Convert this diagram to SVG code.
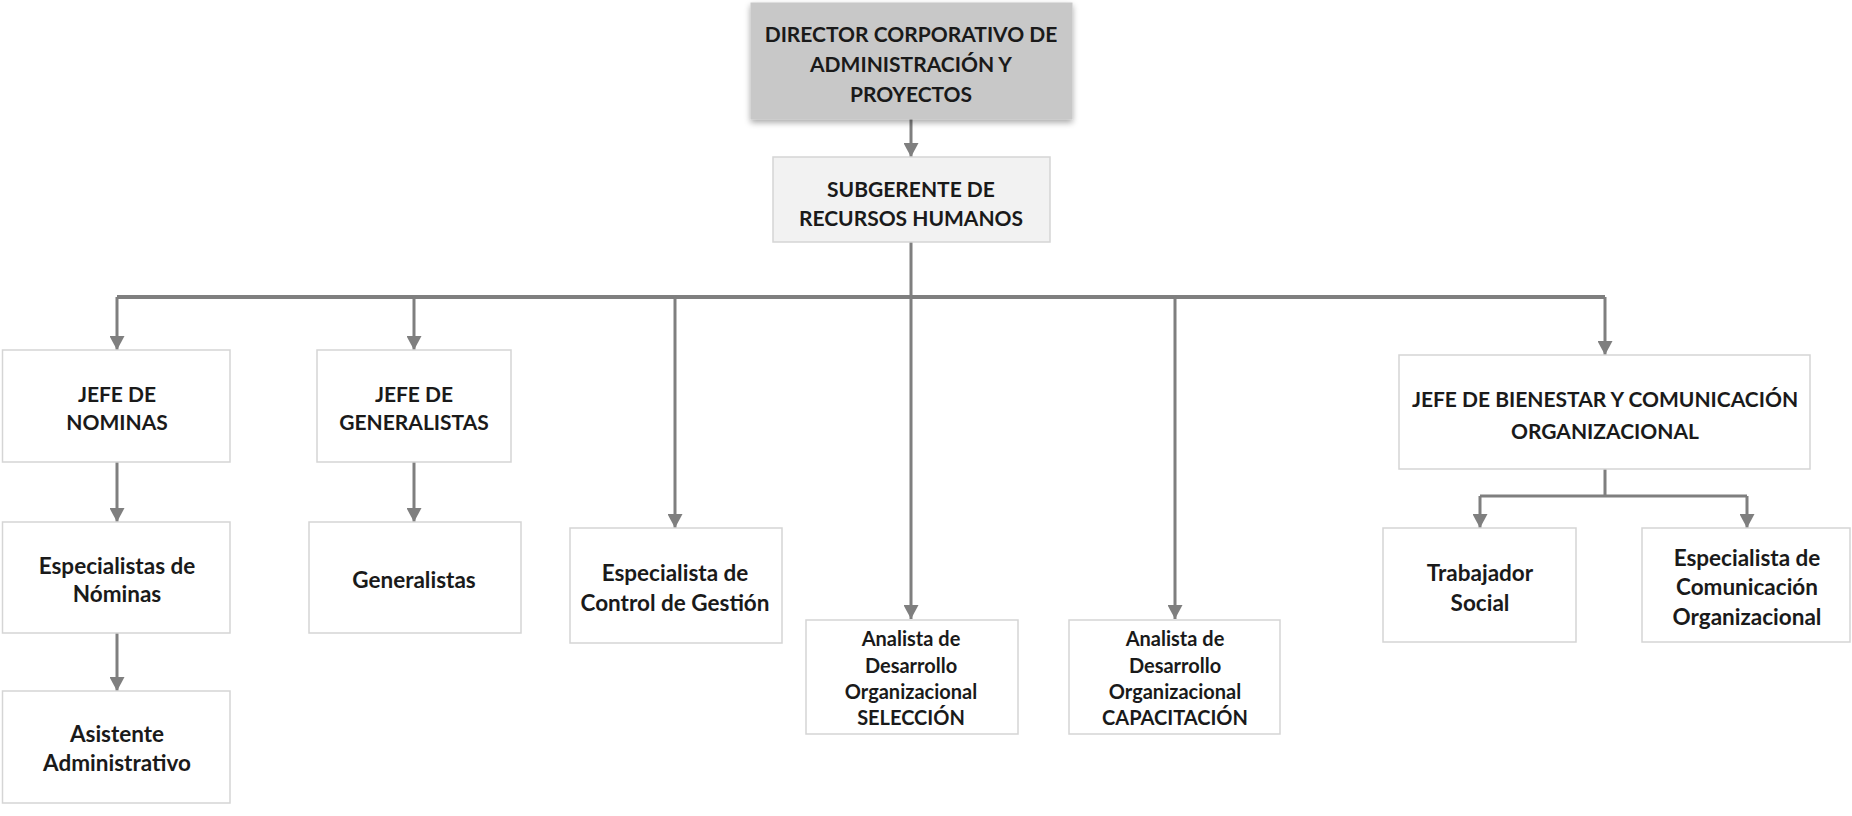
<svg xmlns="http://www.w3.org/2000/svg" width="1852" height="816" viewBox="0 0 1852 816">
  <style>
    .box { fill: #ffffff; stroke: #d5d5d5; stroke-width: 1.5; }
    .top { fill: #c8c8c8; stroke: #c8c8c8; stroke-width: 1; }
    .sub { fill: #f2f2f2; stroke: #d5d5d5; stroke-width: 1.5; }
    .lbl { font-family: Lato, "Liberation Sans", sans-serif; font-weight: bold; font-size: 21px; fill: #1a1a1a; text-anchor: middle; dominant-baseline: central; }
    .mix { font-size: 22.5px; }
    .cond { font-size: 20px; }
    .wire { fill: none; stroke: #7f7f7f; stroke-width: 3; }
    .bus { fill: none; stroke: #7f7f7f; stroke-width: 4; }
  </style>
  <defs>
    <marker id="arrow" viewBox="0 0 14 15" refX="14" refY="7.5" markerWidth="14" markerHeight="15" markerUnits="userSpaceOnUse" orient="auto">
      <path d="M0,0 L14,7.5 L0,15 Z" fill="#7f7f7f"/>
    </marker>
    <filter id="shadow" x="-10%" y="-10%" width="120%" height="130%">
      <feGaussianBlur in="SourceAlpha" stdDeviation="3"/>
      <feOffset dx="0" dy="3" result="b"/>
      <feComponentTransfer><feFuncA type="linear" slope="0.35"/></feComponentTransfer>
      <feMerge><feMergeNode/><feMergeNode in="SourceGraphic"/></feMerge>
    </filter>
  </defs>

  <rect width="1852" height="816" fill="#ffffff"/>

  <g id="connectors">
    <path class="wire" d="M911,119 L911,157" marker-end="url(#arrow)"/>
    <path class="bus" d="M117,297 L1605,297"/>
    <path class="wire" d="M911,242 L911,619" marker-end="url(#arrow)"/>
    <path class="wire" d="M117,297 L117,350" marker-end="url(#arrow)"/>
    <path class="wire" d="M414,297 L414,350" marker-end="url(#arrow)"/>
    <path class="wire" d="M675,297 L675,528" marker-end="url(#arrow)"/>
    <path class="wire" d="M1175,297 L1175,619" marker-end="url(#arrow)"/>
    <path class="wire" d="M1605,297 L1605,355" marker-end="url(#arrow)"/>
    <path class="wire" d="M117,462 L117,522" marker-end="url(#arrow)"/>
    <path class="wire" d="M117,633 L117,691" marker-end="url(#arrow)"/>
    <path class="wire" d="M414,462 L414,522" marker-end="url(#arrow)"/>
    <path class="wire" d="M1605,469 L1605,496 M1480,496 L1747,496"/>
    <path class="wire" d="M1480,496 L1480,528" marker-end="url(#arrow)"/>
    <path class="wire" d="M1747,496 L1747,528" marker-end="url(#arrow)"/>
  </g>

  <g id="director">
    <rect class="top" x="751" y="3" width="321" height="116" filter="url(#shadow)"/>
    <text class="lbl" x="911" y="33">DIRECTOR CORPORATIVO DE</text>
    <text class="lbl" x="911" y="63">ADMINISTRACIÓN Y</text>
    <text class="lbl" x="911" y="93">PROYECTOS</text>
  </g>

  <g id="subgerente">
    <rect class="sub" x="773" y="157" width="277" height="85"/>
    <text class="lbl" x="911" y="188">SUBGERENTE DE</text>
    <text class="lbl" x="911" y="217">RECURSOS HUMANOS</text>
  </g>

  <g id="jefe-nominas">
    <rect class="box" x="2.5" y="350" width="227.5" height="112"/>
    <text class="lbl" x="117" y="393">JEFE DE</text>
    <text class="lbl" x="117" y="421">NOMINAS</text>
  </g>

  <g id="especialistas-nominas">
    <rect class="box" x="2.5" y="522" width="227.5" height="111"/>
    <text class="lbl mix" x="117" y="565">Especialistas de</text>
    <text class="lbl mix" x="117" y="593">Nóminas</text>
  </g>

  <g id="asistente">
    <rect class="box" x="2.5" y="691" width="227.5" height="112"/>
    <text class="lbl mix" x="117" y="733">Asistente</text>
    <text class="lbl mix" x="117" y="762">Administrativo</text>
  </g>

  <g id="jefe-generalistas">
    <rect class="box" x="317" y="350" width="194" height="112"/>
    <text class="lbl" x="414" y="393">JEFE DE</text>
    <text class="lbl" x="414" y="421">GENERALISTAS</text>
  </g>

  <g id="generalistas">
    <rect class="box" x="309" y="522" width="212" height="111"/>
    <text class="lbl mix" x="414" y="579">Generalistas</text>
  </g>

  <g id="control-gestion">
    <rect class="box" x="570" y="528" width="212" height="115"/>
    <text class="lbl mix" x="675" y="572">Especialista de</text>
    <text class="lbl mix" x="675" y="602">Control de Gestión</text>
  </g>

  <g id="analista-seleccion">
    <rect class="box" x="806" y="620" width="212" height="114"/>
    <text class="lbl cond" x="911" y="638">Analista de</text>
    <text class="lbl cond" x="911" y="665">Desarrollo</text>
    <text class="lbl cond" x="911" y="691">Organizacional</text>
    <text class="lbl cond" x="911" y="717">SELECCIÓN</text>
  </g>

  <g id="analista-capacitacion">
    <rect class="box" x="1069" y="620" width="211" height="114"/>
    <text class="lbl cond" x="1175" y="638">Analista de</text>
    <text class="lbl cond" x="1175" y="665">Desarrollo</text>
    <text class="lbl cond" x="1175" y="691">Organizacional</text>
    <text class="lbl cond" x="1175" y="717">CAPACITACIÓN</text>
  </g>

  <g id="jefe-bienestar">
    <rect class="box" x="1399" y="355" width="411" height="114"/>
    <text class="lbl" x="1605" y="398">JEFE DE BIENESTAR Y COMUNICACIÓN</text>
    <text class="lbl" x="1605" y="430">ORGANIZACIONAL</text>
  </g>

  <g id="trabajador-social">
    <rect class="box" x="1383" y="528" width="193" height="114"/>
    <text class="lbl mix" x="1480" y="572">Trabajador</text>
    <text class="lbl mix" x="1480" y="602">Social</text>
  </g>

  <g id="especialista-comunicacion">
    <rect class="box" x="1642" y="528" width="208" height="114"/>
    <text class="lbl mix" x="1747" y="557">Especialista de</text>
    <text class="lbl mix" x="1747" y="586">Comunicación</text>
    <text class="lbl mix" x="1747" y="616">Organizacional</text>
  </g>
</svg>
